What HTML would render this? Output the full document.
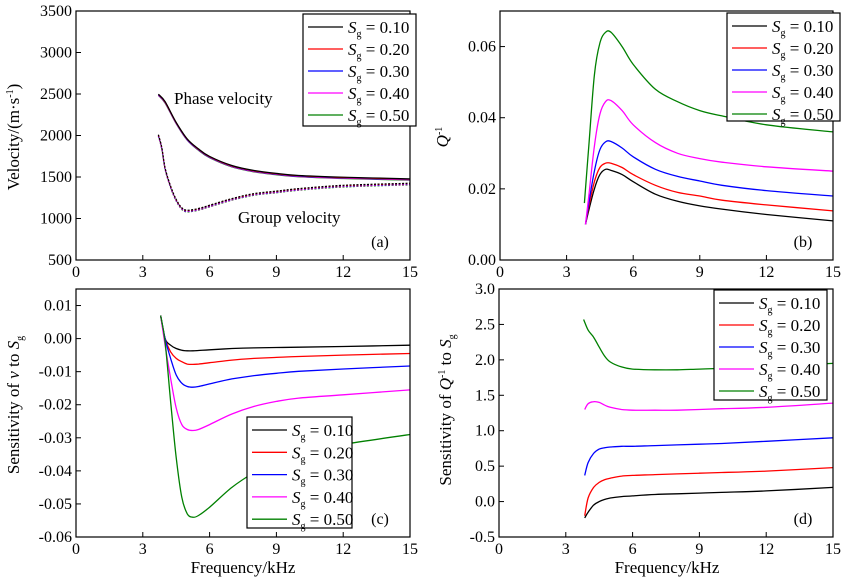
<!DOCTYPE html>
<html><head><meta charset="utf-8"><style>
body{margin:0;background:#fff}
svg{display:block}
svg text{font-family:"Liberation Serif","Times New Roman","DejaVu Serif",serif}
</style></head><body>
<svg id="fig" width="847" height="581" viewBox="0 0 847 581" xmlns="http://www.w3.org/2000/svg" font-family="Liberation Serif, DejaVu Serif, serif"></svg>
<script>
const colors = ["#000000","#ff0000","#0000ff","#ff00ff","#008000"];
const legendLabels = ["0.10","0.20","0.30","0.40","0.50"];
// Panel a
const freqAPhase = [3.7,4,4.5,5,5.5,6,7,8,9,10,12,15];
const phaseVel = [2490,2400,2150,1950,1830,1740,1630,1570,1535,1510,1490,1470];
const freqAGroup = [3.7,3.85,4,4.25,4.5,4.75,5,5.5,6,7,8,9,10,12,15];
const groupVel = [2000,1850,1600,1380,1220,1120,1090,1110,1150,1230,1290,1320,1350,1390,1415];
const aTicksY = [500,1000,1500,2000,2500,3000,3500];
// Panel b
const freqB = [3.85,4,4.25,4.5,4.75,5,5.5,6,7,8,9,10,12,15];
const qB0 = [0.010,0.014,0.020,0.024,0.0255,0.0252,0.024,0.022,0.0185,0.0165,0.0152,0.0143,0.0128,0.011];
const qB1 = [0.010,0.015,0.022,0.026,0.0272,0.0272,0.026,0.024,0.021,0.019,0.018,0.0168,0.0155,0.0138];
const qB2 = [0.010,0.016,0.025,0.031,0.0332,0.0333,0.0315,0.029,0.0255,0.0235,0.0222,0.021,0.0195,0.018];
const qB3 = [0.010,0.018,0.032,0.041,0.0445,0.0448,0.042,0.038,0.033,0.030,0.0285,0.0275,0.0262,0.025];
const qB4 = [0.016,0.032,0.052,0.061,0.064,0.064,0.060,0.055,0.048,0.0445,0.042,0.0405,0.038,0.036];
const bTicksY = [0,0.02,0.04,0.06];
// Panel c
const freqC = [3.8,4,4.25,4.5,4.75,5,5.25,5.5,6,7,8,9,10,12,15];
const sC0 = [0.007,0.000,-0.002,-0.003,-0.0035,-0.0037,-0.0037,-0.0036,-0.0034,-0.0030,-0.0028,-0.0027,-0.0026,-0.0024,-0.002];
const sC1 = [0.007,0.000,-0.004,-0.006,-0.007,-0.0077,-0.0078,-0.0077,-0.0073,-0.0065,-0.006,-0.0057,-0.0054,-0.005,-0.0045];
const sC2 = [0.007,0.000,-0.006,-0.011,-0.0135,-0.0145,-0.0147,-0.0145,-0.0137,-0.0122,-0.0112,-0.0105,-0.0099,-0.0092,-0.0083];
const sC3 = [0.007,-0.002,-0.012,-0.021,-0.026,-0.0275,-0.0278,-0.0275,-0.026,-0.0228,-0.0205,-0.019,-0.018,-0.017,-0.0155];
const sC4 = [0.007,-0.001,-0.019,-0.036,-0.048,-0.053,-0.054,-0.0535,-0.051,-0.045,-0.0405,-0.037,-0.0345,-0.032,-0.029];
const cTicksY = [-0.06,-0.05,-0.04,-0.03,-0.02,-0.01,0,0.01];
const cTickLabels = ["-0.06","-0.05","-0.04","-0.03","-0.02","-0.01","0.00","0.01"];
// Panel d
const freqD = [3.85,4,4.25,4.5,4.75,5,5.5,6,7,8,9,10,12,15];
const sD0 = [-0.23,-0.15,-0.05,0.0,0.03,0.05,0.07,0.08,0.10,0.11,0.12,0.13,0.15,0.20];
const sD1 = [-0.2,0.05,0.2,0.27,0.31,0.33,0.36,0.37,0.38,0.39,0.40,0.41,0.43,0.48];
const sD2 = [0.37,0.55,0.68,0.74,0.76,0.77,0.78,0.78,0.79,0.80,0.81,0.82,0.85,0.90];
const sD3 = [1.30,1.38,1.41,1.40,1.36,1.33,1.30,1.29,1.29,1.29,1.30,1.31,1.33,1.39];
const freqDG = [3.8,4,4.25,4.5,4.75,5,5.5,6,7,8,9,10,12,15];
const sD4 = [2.57,2.42,2.32,2.18,2.05,1.97,1.90,1.87,1.86,1.86,1.87,1.88,1.91,1.95];
const dTicksY = [-0.5,0,0.5,1.0,1.5,2.0,2.5,3.0];
const xTicks = [0,3,6,9,12,15];

const NS="http://www.w3.org/2000/svg";
const svg=document.getElementById('fig');
function mk(tag,attrs,parent){const e=document.createElementNS(NS,tag);for(const k in attrs)e.setAttribute(k,attrs[k]);if(tag==='text')e.setAttribute('font-family','Liberation Serif, DejaVu Serif, serif');(parent||svg).appendChild(e);return e;}
function smooth(pts){let d="M"+pts[0][0].toFixed(1)+","+pts[0][1].toFixed(1);for(let i=0;i<pts.length-1;i++){const p0=pts[Math.max(0,i-1)],p1=pts[i],p2=pts[i+1],p3=pts[Math.min(pts.length-1,i+2)];const c1=[p1[0]+(p2[0]-p0[0])/6,p1[1]+(p2[1]-p0[1])/6],c2=[p2[0]-(p3[0]-p1[0])/6,p2[1]-(p3[1]-p1[1])/6];d+="C"+c1[0].toFixed(1)+","+c1[1].toFixed(1)+" "+c2[0].toFixed(1)+","+c2[1].toFixed(1)+" "+p2[0].toFixed(1)+","+p2[1].toFixed(1);}return d;}

function panel(cfg){
  const g=mk('g',{});
  
  
  const sx=v=>cfg.x0+(v-0)/15*(cfg.x1-cfg.x0);
  const sy=v=>cfg.y1-(v-cfg.ymin)/(cfg.ymax-cfg.ymin)*(cfg.y1-cfg.y0);
  cfg.series.forEach((s,i)=>{
    const pts=s.x.map((xv,j)=>[sx(xv),sy(s.y[j])]);
    const p=mk('path',{d:smooth(pts),fill:'none',stroke:s.c,'stroke-width':s.w||1.3,'stroke-dasharray':s.dash||'none'},g);
    
    
  });
  const fr=mk('rect',{x:cfg.x0,y:cfg.y0,width:cfg.x1-cfg.x0,height:cfg.y1-cfg.y0,fill:'none',stroke:'#000','stroke-width':1.2},g);
  
  
  xTicks.forEach(t=>{
    mk('line',{x1:sx(t),x2:sx(t),y1:cfg.y1,y2:cfg.y1-5,stroke:'#000'},g);
    const tx=mk('text',{x:sx(t),y:cfg.y1+17,'text-anchor':'middle','font-size':16},g);
    tx.textContent=t;
    
    
  });
  cfg.yt.forEach((t,i)=>{
    mk('line',{x1:cfg.x0,x2:cfg.x0+5,y1:sy(t),y2:sy(t),stroke:'#000'},g);
    const tx=mk('text',{x:cfg.x0-4,y:sy(t)+5,'text-anchor':'end','font-size':16},g);
    tx.textContent=cfg.ytl[i];
    
    
  });
  const pl=mk('text',{x:cfg.x1-30,y:cfg.y1-13,'text-anchor':'middle','font-size':16},g);
  pl.textContent=cfg.label;
  
  
  const L=cfg.leg;
  const lg=mk('g',{},g);
  
  
  mk('rect',{x:L.x,y:L.y,width:L.w,height:L.h,fill:'#fff',stroke:'#000','stroke-width':1.2},lg);
  legendLabels.forEach((lab,i)=>{
    const yy=L.y+13+i*L.dy;
    const ln=mk('line',{x1:L.x+5,x2:L.x+40,y1:yy,y2:yy,stroke:colors[i],'stroke-width':1.3},lg);
    
    
    const t=mk('text',{x:L.x+45,y:yy+6,'font-size':17},lg);
    t.innerHTML='<tspan font-style="italic">S</tspan><tspan font-size="10" dy="4">g</tspan><tspan dy="-4"> = '+lab+'</tspan>';
    
    
  });
  return g;
}
const fmt=(a,d)=>a.map(v=>v.toFixed(d));
const sa=[];
for(let i=4;i>=0;i--){
  sa.push({n:'phase-'+i,x:freqAPhase,y:phaseVel.map(v=>v+(i-2)*-4),c:colors[i],w:1.2});
  sa.push({n:'group-'+i,x:freqAGroup,y:groupVel.map(v=>v+(i-2)*-5),c:colors[i],w:1.2,dash:'2,1.5'});
}
panel({name:'panel-a',x0:76,x1:410,y0:11,y1:260,ymin:500,ymax:3500,yt:aTicksY,ytl:aTicksY.map(String),label:'(a)',
  series:sa,leg:{x:303,y:14,w:113,h:112,dy:22}});
const bSer=[qB0,qB1,qB2,qB3,qB4];
panel({name:'panel-b',x0:500,x1:833,y0:11,y1:260,ymin:0,ymax:0.07,yt:bTicksY,ytl:fmt(bTicksY,2),label:'(b)',
  series:bSer.map((y,i)=>({n:i,x:i==4?[3.8].concat(freqB.slice(1)):freqB,y:y,c:colors[i]})),leg:{x:727,y:13,w:113,h:108,dy:22}});
const cSer=[sC0,sC1,sC2,sC3,sC4];
panel({name:'panel-c',x0:76,x1:410,y0:289,y1:537,ymin:-0.06,ymax:0.015,yt:cTicksY,ytl:cTickLabels,label:'(c)',
  series:cSer.map((y,i)=>({n:i,x:freqC,y:y,c:colors[i]})),leg:{x:247,y:417,w:105,h:111,dy:22.3}});
const dSer=[sD0,sD1,sD2,sD3];
const dd=dSer.map((y,i)=>({n:i,x:freqD,y:y,c:colors[i]}));
dd.push({n:4,x:freqDG,y:sD4,c:colors[4]});
panel({name:'panel-d',x0:499,x1:833,y0:289,y1:537,ymin:-0.5,ymax:3.0,yt:dTicksY,ytl:fmt(dTicksY,1),label:'(d)',
  series:dd,leg:{x:714,y:290,w:113,h:110,dy:22}});

function lab(html,x,y,rot,name,size){
  const t=mk('text',{x:x,y:y,'text-anchor':'middle','font-size':size||17,transform:rot?'rotate(-90 '+x+' '+y+')':''});
  t.innerHTML=html;
  
  
}
lab('Velocity/(m·s<tspan font-size="10" dy="-6">-1</tspan><tspan dy="6">)</tspan>',19,137,true,'y-axis-title-a');
lab('<tspan font-style="italic">Q</tspan><tspan font-size="10" dy="-6">-1</tspan>',448,137,true,'y-axis-title-b');
lab('Sensitivity of <tspan font-style="italic">v</tspan>  to <tspan font-style="italic">S</tspan><tspan font-size="10" dy="4">g</tspan>',19,405,true,'y-axis-title-c');
lab('Sensitivity of <tspan font-style="italic">Q</tspan><tspan font-size="10" dy="-6">-1</tspan><tspan dy="6"> to </tspan><tspan font-style="italic">S</tspan><tspan font-size="10" dy="4">g</tspan>',451,410,true,'y-axis-title-d');
lab('Frequency/kHz',243,573,false,'x-axis-title-c');
lab('Frequency/kHz',667,573,false,'x-axis-title-d');
const t1=mk('text',{x:174,y:104,'font-size':17});t1.textContent='Phase velocity';


const t2=mk('text',{x:238,y:223,'font-size':17});t2.textContent='Group velocity';


</script>
</body></html>
